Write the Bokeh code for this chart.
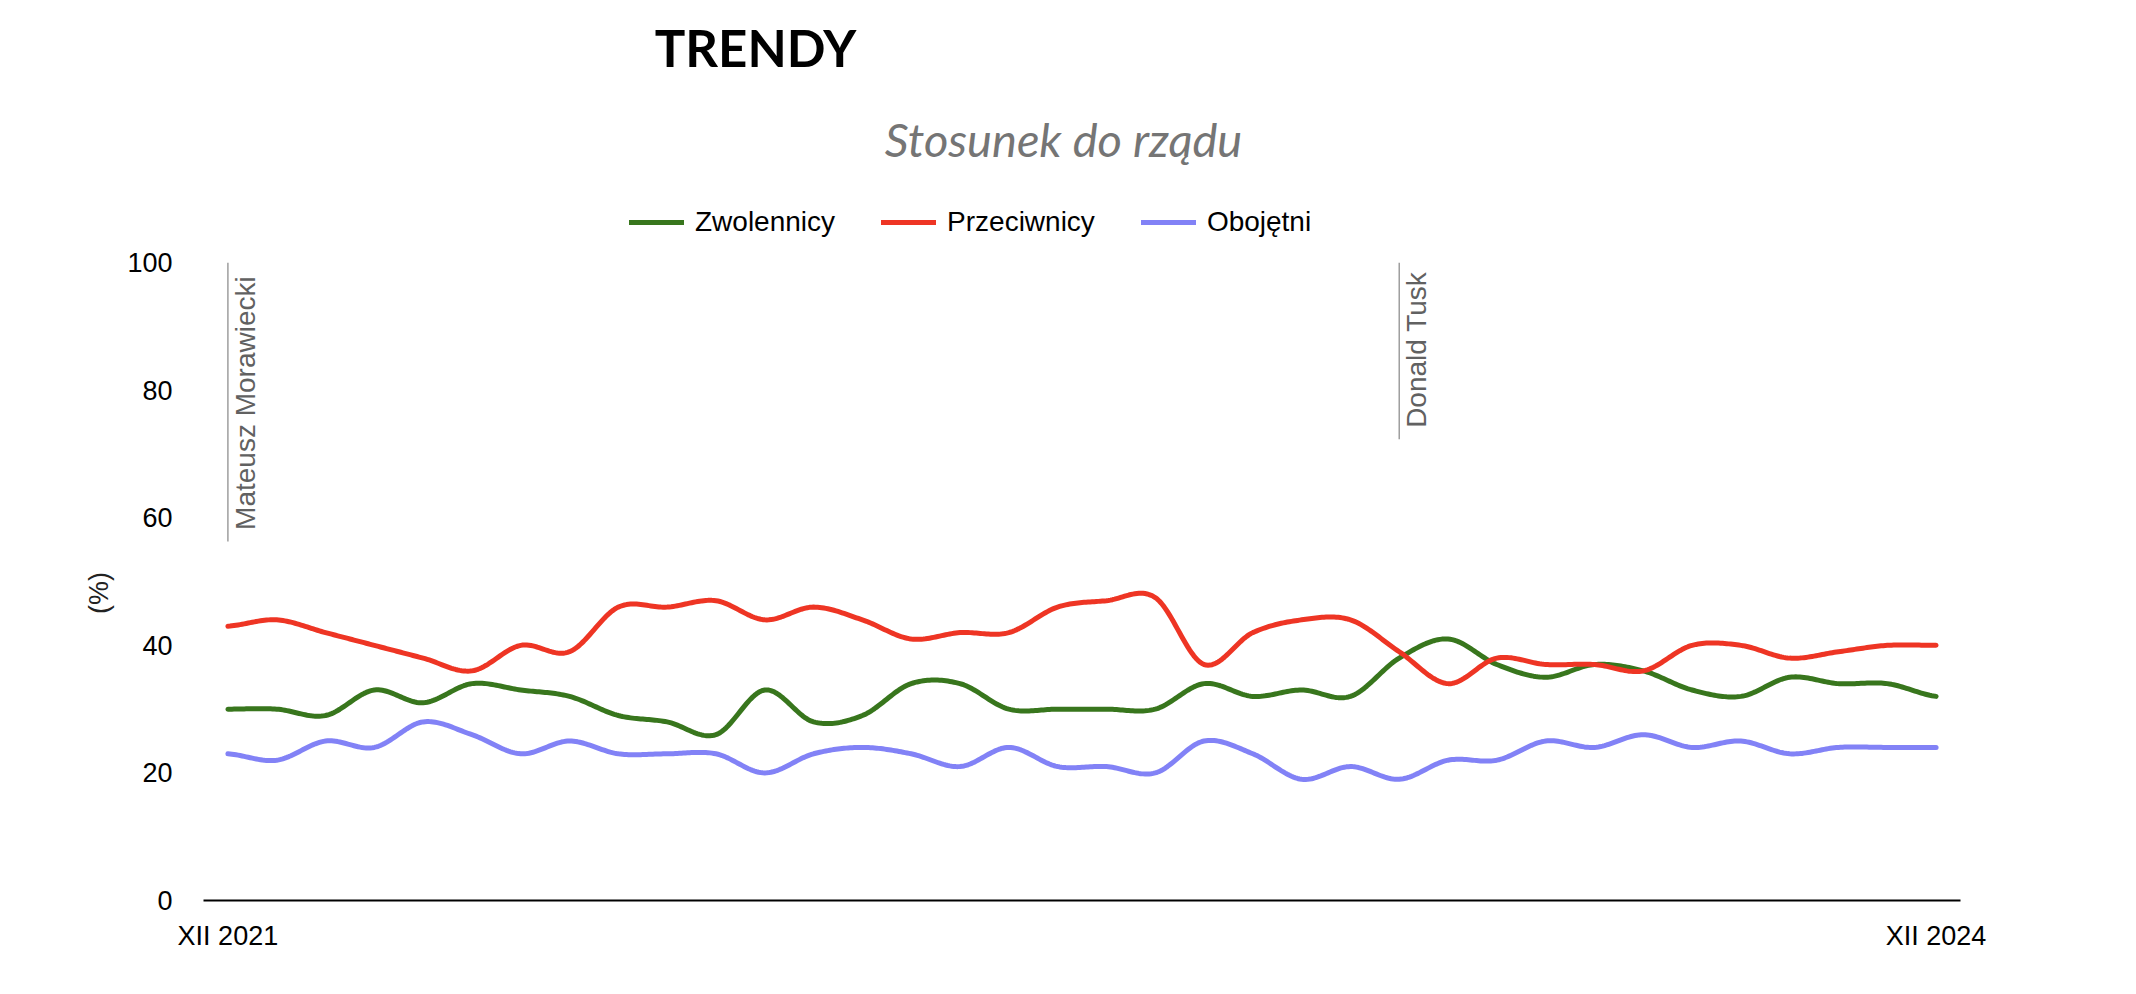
import numpy as np
from bokeh.plotting import figure
from bokeh.models import (Legend, LegendItem, Label, FixedTicker)
from bokeh.embed import file_html
from bokeh.resources import INLINE

# ---------------- data ----------------
x_labels = ["XII 2021", "XII 2024"]
zwolennicy = [30, 30, 29, 33, 31, 34, 33, 32, 29, 28, 26, 33, 28, 29, 34, 34, 30, 30,
              30, 30, 34, 32, 33, 32, 38, 41, 37, 35, 37, 36, 33, 32, 35, 34, 34, 32]
przeciwnicy = [43, 44, 42, 40, 38, 36, 40, 39, 46, 46, 47, 44, 46, 44, 41, 42, 42, 46,
               47, 47.5, 37, 42, 44, 44, 39, 34, 38, 37, 37, 36, 40, 40, 38, 39, 40, 40]
obojetni = [23, 22, 25, 24, 28, 26, 23, 25, 23, 23, 23, 20, 23, 24, 23, 21, 24, 21,
            21, 20, 25, 23, 19, 21, 19, 22, 22, 25, 24, 26, 24, 25, 23, 24, 24, 24]
events = ["Mateusz Morawiecki", "Donald Tusk"]
event_index = [0, 24]

series_names = ["Zwolennicy", "Przeciwnicy", "Obojętni"]
series_colors = ["#38761d", "#ee3524", "#8282f6"]

n = len(zwolennicy)


def smooth(vals, steps=24):
    v = np.asarray(vals, dtype=float)
    p = np.concatenate([[v[0]], v, [v[-1]]])
    xs, ys = [], []
    for i in range(len(v) - 1):
        p0, p1, p2, p3 = p[i], p[i + 1], p[i + 2], p[i + 3]
        t = np.linspace(0, 1, steps, endpoint=(i == len(v) - 2))
        y = 0.5 * (2 * p1 + (-p0 + p2) * t + (2 * p0 - 5 * p1 + 4 * p2 - p3) * t ** 2
                   + (-p0 + 3 * p1 - 3 * p2 + p3) * t ** 3)
        xs.append(i + t)
        ys.append(y)
    return np.concatenate(xs), np.concatenate(ys)


# frame spans canvas y 0..900; value 100 sits at canvas y ~262
p = figure(width=2136, height=994, output_backend="svg", toolbar_location=None,
           x_range=(-0.5, n - 0.5), y_range=(0, 141.1),
           min_border_left=203, min_border_right=176, min_border_top=0,
           min_border_bottom=94)
p.outline_line_color = None
p.xgrid.visible = False
p.ygrid.visible = False
p.background_fill_color = "white"
p.border_fill_color = "white"

# axes
xa = p.xaxis[0]
xa.ticker = FixedTicker(ticks=[0, n - 1])
xa.major_label_overrides = {0: x_labels[0], n - 1: x_labels[1]}
xa.axis_line_color = "black"
xa.axis_line_width = 2
xa.major_tick_line_color = None
xa.minor_tick_line_color = None
xa.major_label_text_font = "Liberation Sans"
xa.major_label_text_font_size = "27px"
xa.major_label_text_color = "black"
xa.major_label_standoff = 14

ya = p.yaxis[0]
ya.ticker = FixedTicker(ticks=[0, 20, 40, 60, 80, 100])
ya.axis_line_color = None
ya.major_tick_line_color = None
ya.minor_tick_line_color = None
ya.major_label_text_font = "Liberation Sans"
ya.major_label_text_font_size = "27px"
ya.major_label_text_color = "black"
ya.major_label_standoff = 25
# the frame reaches above 100 (room for titles); pad with no-break spaces so the
# visible "(%)" sits centred on the 0-100 scale, as in the original
ya.axis_label = "(%)" + "\u00a0" * 38
ya.axis_label_text_font = "Liberation Sans"
ya.axis_label_text_font_size = "27px"
ya.axis_label_text_font_style = "normal"
ya.axis_label_text_color = "#222222"
ya.axis_label_standoff = 10

# event annotations
line_bottoms = [56.3, 72.3]
p.segment(x0=event_index, y0=[100, 100], x1=event_index, y1=line_bottoms,
          line_color="#9e9e9e", line_width=1.5)
for ei, name, lb in zip(event_index, events, line_bottoms):
    p.add_layout(Label(x=ei, y=lb + 1.8, text=name, angle=np.pi / 2,
                       text_align="left", text_baseline="top", x_offset=2,
                       text_font="Liberation Sans", text_font_size="28px",
                       text_color="#616161"))

# series
renderers = []
for vals, color in zip([zwolennicy, przeciwnicy, obojetni], series_colors):
    sx, sy = smooth(vals)
    r = p.line(sx, sy, line_color=color, line_width=5, line_join="round", line_cap="round")
    renderers.append(r)

legend = Legend(items=[LegendItem(label=nm, renderers=[r]) for nm, r in zip(series_names, renderers)],
                orientation="horizontal", location=(426, 662),
                glyph_width=55, glyph_height=28, label_height=28,
                label_standoff=11, spacing=46, padding=0, margin=0,
                border_line_color=None, background_fill_alpha=0,
                label_text_font="Liberation Sans", label_text_font_size="28px",
                label_text_color="black")
p.add_layout(legend, "center")

# titles
p.add_layout(Label(x=552, y=853, x_units="screen", y_units="screen", text="TRENDY",
                   text_align="center", text_baseline="alphabetic",
                   text_font="Lato", text_font_style="bold", text_font_size="51px",
                   text_color="black"))
p.add_layout(Label(x=860, y=762, x_units="screen", y_units="screen", text="Stosunek do rządu",
                   text_align="center", text_baseline="alphabetic",
                   text_font="Lato", text_font_style="italic", text_font_size="47px",
                   text_color="#757575"))

open("out.html", "w").write(file_html(p, INLINE))
